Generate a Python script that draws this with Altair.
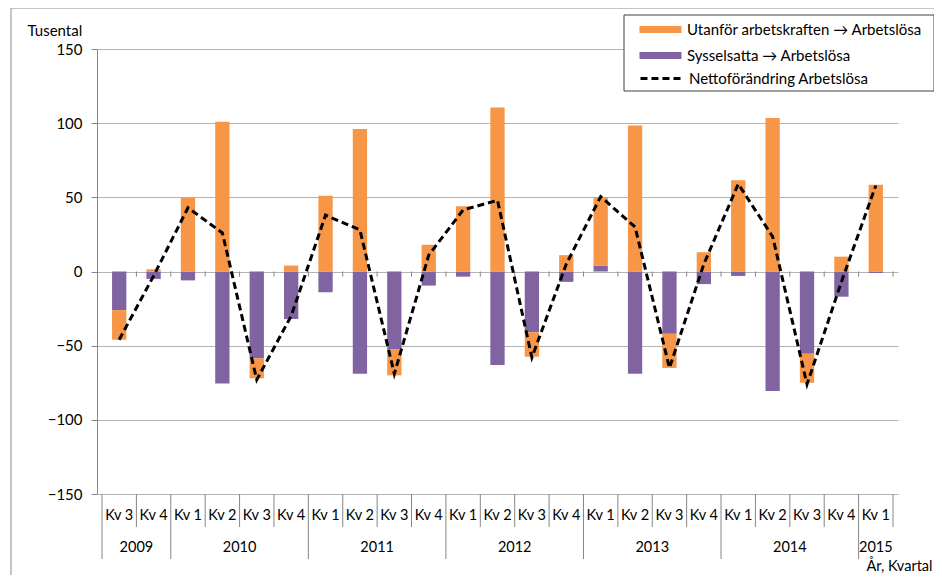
import altair as alt
import pandas as pd

# ---- data ----
quarters = ["Kv 3", "Kv 4",
            "Kv 1", "Kv 2", "Kv 3", "Kv 4",
            "Kv 1", "Kv 2", "Kv 3", "Kv 4",
            "Kv 1", "Kv 2", "Kv 3", "Kv 4",
            "Kv 1", "Kv 2", "Kv 3", "Kv 4",
            "Kv 1", "Kv 2", "Kv 3", "Kv 4",
            "Kv 1"]
years = ["2009", "2009",
         "2010", "2010", "2010", "2010",
         "2011", "2011", "2011", "2011",
         "2012", "2012", "2012", "2012",
         "2013", "2013", "2013", "2013",
         "2014", "2014", "2014", "2014",
         "2015"]
utanfor = [-20, 1.5, 49.5, 101, -13.5, 4, 51, 96, -17.5, 18, 44, 110.5,
           -16.5, 11, 46, 98.5, -23, 13, 61.5, 103.5, -19.5, 10, 58.5]
syssel = [-26, -5, -6, -75.5, -58.5, -32, -14, -69, -52.5, -9.5, -3.5, -63,
          -41, -7, 4, -69, -42, -8.5, -3, -80.5, -55.5, -17, -1]
netto = [-46, -3, 43, 26, -73, -30, 38, 28, -69, 11, 41.5, 48,
         -58, 5, 50.5, 30, -65, 5, 59, 23.5, -76, -7, 58]
y_ticks = [-150, -100, -50, 0, 50, 100, 150]

S_U = "Utanför arbetskraften → Arbetslösa"
S_S = "Sysselsatta → Arbetslösa"
S_N = "Nettoförändring Arbetslösa"

ORANGE = "#F79646"
PURPLE = "#8064A2"
FONT = "Lato"
GRID = "#b3b3b3"
AXIS = "#868686"

W, H = 801, 445
n = len(quarters)

# ---- tables ----
bars_rows = []
for i in range(n):
    bars_rows.append({"idx": i, "serie": S_S, "value": syssel[i], "ord": 0})
    bars_rows.append({"idx": i, "serie": S_U, "value": utanfor[i], "ord": 1})
bars_df = pd.DataFrame(bars_rows)
line_df = pd.DataFrame({"idx": list(range(n)), "value": netto, "serie": [S_N] * n})
quarter_df = pd.DataFrame({"idx": list(range(n)), "q": quarters})

# year groups
year_names, year_start, year_end = [], [], []
for i, yv in enumerate(years):
    if not year_names or year_names[-1] != yv:
        year_names.append(yv)
        year_start.append(i)
        year_end.append(i)
    else:
        year_end[-1] = i
year_df = pd.DataFrame({"year": year_names,
                        "idx": [(a + b) / 2 for a, b in zip(year_start, year_end)]})

bounds = [i - 0.5 for i in range(n + 1)]
long_b = [s - 0.5 for s in year_start]
sep_df = pd.DataFrame({"idx": bounds,
                       "long": [b in long_b for b in bounds]})
zero_tick_df = pd.DataFrame({"idx": bounds[1:]})

xscale = alt.Scale(domain=[-0.5, n - 0.5], nice=False, zero=False)
yscale = alt.Scale(domain=[-150, 150], nice=False)

# legend geometry (relative to plot origin)
LX, LY, LPAD, LROW, LGAP = 527, -34, 7, 14, 10
LBOX_W, LBOX_H = 310, 3 * LROW + 2 * LGAP + 2 * LPAD
LFS = 15

legend_bars = alt.Legend(
    title=None, orient="none", legendX=LX, legendY=LY,
    padding=LPAD, rowPadding=LGAP,
    symbolType="M0.14,-0.5H6.14V0.5H0.14Z", symbolSize=196,
    symbolStrokeWidth=0, symbolOpacity=1,
    labelOffset=41, labelFontSize=LFS, labelFont=FONT,
    labelColor="black", labelLimit=400,
)
legend_line = alt.Legend(
    title=None, orient="none", legendX=LX, legendY=LY + 2 * (LROW + LGAP),
    padding=LPAD, rowPadding=LGAP,
    symbolType="M0.14,0H6.14", symbolSize=196, symbolStrokeColor="black",
    symbolStrokeWidth=3, symbolFillColor="transparent",
    labelOffset=41, labelFontSize=LFS, labelFont=FONT,
    labelColor="black", labelLimit=400,
)

x_axis = alt.Axis(labels=False, grid=False, ticks=False, domain=False,
                  title="År, Kvartal",
                  titleFont=FONT, titleFontSize=14.5, titleFontWeight="normal",
                  titleColor="black", titleX=835, titleY=72, titleAlign="right",
                  titleBaseline="middle")
y_axis = alt.Axis(values=y_ticks, grid=True, gridColor=GRID, domainColor=AXIS,
                  tickColor=AXIS, tickSize=6, labelPadding=9, labelFontSize=15,
                  labelFont=FONT, labelColor="black", title="Tusental",
                  titleAngle=0, titleX=-70, titleY=-19, titleAlign="left",
                  titleBaseline="middle", titleFont=FONT, titleFontSize=15,
                  titleFontWeight="normal", titleColor="black")

one = pd.DataFrame({"a": [0]})
frame = alt.Chart(one).mark_rect(
    fill=None, stroke="#8c8c8c", strokeWidth=1
).encode(x=alt.value(-86), x2=alt.value(W + 200), y=alt.value(-41), y2=alt.value(H + 200))

legend_box = alt.Chart(one).mark_rect(
    fill="white", stroke="#404040", strokeWidth=1
).encode(x=alt.value(LX), x2=alt.value(LX + LBOX_W),
         y=alt.value(LY), y2=alt.value(LY + LBOX_H))

bars = alt.Chart(bars_df).mark_bar(size=14.3).encode(
    x=alt.X("idx:Q", scale=xscale, axis=x_axis),
    y=alt.Y("value:Q", stack="zero", scale=yscale, axis=y_axis),
    color=alt.Color("serie:N", scale=alt.Scale(domain=[S_U, S_S],
                                               range=[ORANGE, PURPLE]),
                    legend=legend_bars),
    order=alt.Order("ord:Q"),
)

zero_ticks = alt.Chart(zero_tick_df).mark_rule(color=AXIS, strokeWidth=1).encode(
    x=alt.X("idx:Q", scale=xscale),
    y=alt.datum(0),
    y2=alt.datum(-3.5),
)

seps_short = alt.Chart(sep_df).transform_filter("!datum.long").mark_rule(
    color=AXIS, strokeWidth=1).encode(
    x=alt.X("idx:Q", scale=xscale),
    y=alt.value(H), y2=alt.value(H + 33))
seps_long = alt.Chart(sep_df).transform_filter("datum.long").mark_rule(
    color=AXIS, strokeWidth=1).encode(
    x=alt.X("idx:Q", scale=xscale),
    y=alt.value(H), y2=alt.value(H + 65))

quarter_text = alt.Chart(quarter_df).mark_text(
    font=FONT, fontSize=14.5, color="black", baseline="middle", align="center"
).encode(x=alt.X("idx:Q", scale=xscale), y=alt.value(H + 22), text="q:N")

year_text = alt.Chart(year_df).mark_text(
    font=FONT, fontSize=14.5, color="black", baseline="middle", align="center"
).encode(x=alt.X("idx:Q", scale=xscale), y=alt.value(H + 54), text="year:N")

line = alt.Chart(line_df).mark_line(color="black", strokeWidth=3).encode(
    x=alt.X("idx:Q", scale=xscale),
    y=alt.Y("value:Q", scale=yscale),
    strokeDash=alt.StrokeDash("serie:N", scale=alt.Scale(domain=[S_N], range=[[7, 4]]),
                              legend=legend_line),
)

chart = alt.layer(bars, frame, legend_box, zero_ticks, seps_short, seps_long,
                  quarter_text, year_text, line).properties(
    width=W, height=H,
    padding={"left": 89, "top": 41, "right": 36, "bottom": 81},
    autosize=alt.AutoSizeParams(type="none"),
    background="white",
).configure_view(stroke=None)

chart.save("out.html", embed_options={"renderer": "svg", "actions": False})
